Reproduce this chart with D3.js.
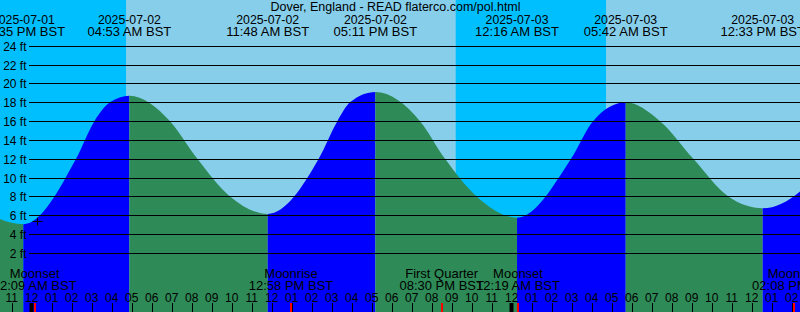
<!DOCTYPE html>
<html><head><meta charset="utf-8">
<script src="https://cdn.jsdelivr.net/npm/d3@7/dist/d3.min.js"></script>
<style>
body{margin:0;background:#fff}
svg{display:block}
text{font-family:"Liberation Sans",Arial,Helvetica,sans-serif;font-size:12px;fill:#000}
</style>
</head><body>
<script>
// ---------- data (times in BST) ----------
const title = "Dover, England - READ flaterco.com/pol.html";
// high / low waters
const tideTimes   = ["2025-07-01 16:35","2025-07-01 23:35","2025-07-02 04:53","2025-07-02 11:48","2025-07-02 17:11","2025-07-03 00:16","2025-07-03 05:42","2025-07-03 12:33","2025-07-03 18:00"];
const tideHeights = [18.9, 5.05, 18.7, 6.15, 19.1, 5.75, 18.0, 6.75, 18.2];
const tideLabeled = [false, true, true, true, true, true, true, true, false];
// intermediate water levels
const curveTimes   = ["2025-07-02 02:13","2025-07-02 03:08","2025-07-02 03:55",
                      "2025-07-02 06:55","2025-07-02 08:17","2025-07-02 09:55",
                      "2025-07-02 14:21","2025-07-02 15:17","2025-07-02 15:55",
                      "2025-07-02 19:25","2025-07-02 20:40","2025-07-02 22:15",
                      "2025-07-03 02:58","2025-07-03 04:04",
                      "2025-07-03 07:25","2025-07-03 09:05","2025-07-03 10:50"];
const curveHeights = [12, 16, 18,
                      16, 12, 8,
                      12, 16, 18,
                      16, 12, 8,
                      12, 16,
                      16, 12, 8];
const sunTimes  = ["2025-07-02 04:43","2025-07-02 21:12","2025-07-03 04:43"];
const sunEvents = ["rise","set","rise"];
const moonTimes  = ["2025-07-02 00:09","2025-07-02 12:58","2025-07-02 20:30","2025-07-03 00:19","2025-07-03 14:08"];
const moonEvents = ["Moonset","Moonrise","First Quarter","Moonset","Moonrise"];
const yTicks = [2,4,6,8,10,12,14,16,18,20,22,24];
const hourTicks = d3.range(-1, 39); // hours from 2025-07-02 00:00 BST
const markTime = "2025-07-02 00:17", markHeight = 5.4;

// ---------- helpers ----------
const W = 800, H = 312;
const origin = Date.UTC(2025, 6, 2, 0, 0);
function hrs(s){
  const [d, t] = s.split(" ");
  const [Y, M, D] = d.split("-").map(Number);
  const [h, m] = t.split(":").map(Number);
  return (Date.UTC(Y, M-1, D, h, m) - origin) / 3600000;
}
function fmtTime(s){
  let [h, m] = s.split(" ")[1].split(":").map(Number);
  const ap = h < 12 ? "AM" : "PM";
  let h12 = h % 12; if (h12 === 0) h12 = 12;
  return String(h12).padStart(2,"0") + ":" + String(m).padStart(2,"0") + " " + ap + " BST";
}

const x = d3.scaleLinear().domain([-1.585, 38.415]).range([0, W]);
const y = d3.scaleLinear().domain([0, 24]).range([271.8, 45.8]);

const svg = d3.select("body").append("svg").attr("width", W).attr("height", H);

// ---------- sky ----------
svg.append("rect").attr("x",0).attr("y",0).attr("width",W).attr("height",H).attr("fill","#00bfff");
sunTimes.forEach((s, i) => {
  if (sunEvents[i] !== "rise") return;
  const x0 = x(hrs(s));
  const x1 = (i+1 < sunTimes.length) ? x(hrs(sunTimes[i+1])) : W;
  svg.append("rect").attr("x", x0).attr("y", 0).attr("width", x1 - x0).attr("height", H).attr("fill", "#87ceeb");
});

// ---------- tide ----------
const ext = tideTimes.map((t, i) => [x(hrs(t)), y(tideHeights[i])]);
const mid = curveTimes.map((t, i) => [x(hrs(t)), y(curveHeights[i])]);
const pts = ext.concat(mid).sort((a, b) => a[0] - b[0]);
const area = d3.area().x(d => d[0]).y0(H).y1(d => d[1]).curve(d3.curveMonotoneX);
const dPath = area(pts);
const defs = svg.append("defs");
for (let i = 0; i < ext.length - 1; i++){
  const x0 = ext[i][0], x1 = ext[i+1][0];
  const id = "seg" + i;
  defs.append("clipPath").attr("id", id).append("rect")
    .attr("x", x0).attr("y", 0).attr("width", x1 - x0).attr("height", H);
  svg.append("path").attr("d", dPath).attr("clip-path", `url(#${id})`)
    .attr("fill", tideHeights[i+1] > tideHeights[i] ? "#0000ff" : "#2e8b57");
}

// ---------- grid + y labels ----------
yTicks.forEach(v => {
  const yy = Math.round(y(v)) + 0.5;
  svg.append("line").attr("x1", 29).attr("x2", W).attr("y1", yy).attr("y2", yy)
    .attr("stroke", "#000").attr("stroke-width", 1);
  svg.append("text").attr("x", 26.5).attr("y", yy + 4).attr("text-anchor", "end").text(v + " ft");
});

// ---------- mark ----------
{
  const mx = Math.round(x(hrs(markTime))) + 0.5, my = Math.round(y(markHeight)) + 0.5;
  svg.append("line").attr("x1", mx - 5).attr("x2", mx + 5).attr("y1", my).attr("y2", my).attr("stroke", "#000");
  svg.append("line").attr("x1", mx).attr("x2", mx).attr("y1", my - 4).attr("y2", my + 4).attr("stroke", "#000");
}

// ---------- title + tide event labels ----------
svg.append("text").attr("x", 395.5).attr("y", 11).attr("text-anchor", "middle")
  .style("font-size", "12.5px").text(title);
tideTimes.forEach((t, i) => {
  if (!tideLabeled[i]) return;
  const xx = x(hrs(t));
  svg.append("text").attr("x", xx).attr("y", 23.5).attr("text-anchor", "middle")
    .style("font-size", "12.3px").text(t.split(" ")[0]);
  svg.append("text").attr("x", xx).attr("y", 35.8).attr("text-anchor", "middle")
    .style("font-size", "13px").text(fmtTime(t));
});

// ---------- moon labels ----------
moonTimes.forEach((t, i) => {
  const xx = x(hrs(t));
  svg.append("text").attr("x", xx).attr("y", 278.3).attr("text-anchor", "middle")
    .style("font-size", "13px").text(moonEvents[i]);
  svg.append("text").attr("x", xx).attr("y", 290).attr("text-anchor", "middle")
    .style("font-size", "13px").text(fmtTime(t));
});

// ---------- hour axis ----------
hourTicks.forEach(h => {
  const xx = x(h);
  let h12 = ((h % 12) + 12) % 12; if (h12 === 0) h12 = 12;
  svg.append("text").attr("x", xx).attr("y", 301.5).attr("text-anchor", "middle").text(String(h12).padStart(2, "0"));
  if (((h % 24) + 24) % 24 === 0){
    svg.append("rect").attr("x", Math.round(xx) - 2.5).attr("y", 303).attr("width", 4).attr("height", H - 303).attr("fill", "#000");
  } else {
    const lx = Math.round(xx) + 0.5;
    svg.append("line").attr("x1", lx).attr("x2", lx).attr("y1", 303).attr("y2", H).attr("stroke", "#000");
  }
});
moonTimes.forEach(t => {
  const xx = Math.round(x(hrs(t)));
  svg.append("rect").attr("x", xx - 1).attr("y", 303).attr("width", 2).attr("height", H - 303).attr("fill", "#ff0000");
});
</script>
</body></html>
